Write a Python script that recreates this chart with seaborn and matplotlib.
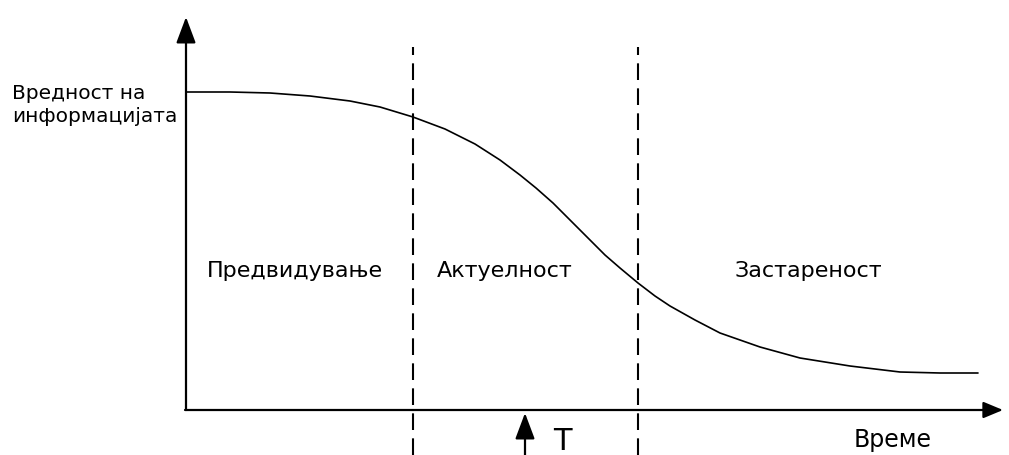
import seaborn as sns
import numpy as np
import pandas as pd
import matplotlib.pyplot as plt

# value of the information over time
time = [0, 0.44, 0.84, 1.24, 1.64, 1.94, 2.27, 2.59, 2.89, 3.14, 3.34, 3.50, 3.67,
        3.84, 4.01, 4.19, 4.34, 4.52, 4.69, 4.84, 5.09, 5.34, 5.74, 6.14, 6.64,
        7.14, 7.54, 7.92]
value = [3.18, 3.18, 3.17, 3.14, 3.09, 3.03, 2.93, 2.81, 2.66, 2.50, 2.35, 2.22, 2.07,
         1.90, 1.73, 1.55, 1.42, 1.27, 1.14, 1.04, 0.90, 0.77, 0.63, 0.52, 0.44,
         0.38, 0.37, 0.37]

phase_names = ["Предвидување", "Актуелност", "Застареност"]
phase_bounds = [2.27, 4.52]
moment_t = 3.39

y_label = "Вредност на\nинформацијата"
x_label = "Време"

df = pd.DataFrame({"time": time, "value": value})

sns.set_theme(style="white")
plt.rcParams['font.family'] = ['DejaVu Sans']
plt.rcParams['text.color'] = 'black'

fig = plt.figure(figsize=(10.09, 4.55), dpi=100)
ax = fig.add_axes([0, 0, 1, 1])
ax.set_xlim(-1.86, 8.23)
ax.set_ylim(-0.45, 4.10)
ax.axis("off")

sns.lineplot(data=df, x="time", y="value", ax=ax, color="black", lw=1.2)

# axes with arrow heads
arrow = dict(arrowstyle="-|>,head_length=0.8,head_width=0.3", color="black",
             lw=1.6, mutation_scale=20, shrinkA=0, shrinkB=0)
ax.annotate("", xy=(0, 3.93), xytext=(0, 0), arrowprops=arrow)
ax.annotate("", xy=(8.17, 0), xytext=(-0.01, 0),
            arrowprops=dict(arrow, arrowstyle="-|>,head_length=0.6,head_width=0.25"))

# phase boundaries
ax.vlines(phase_bounds, -0.45, 3.63, colors="black", linestyles=(0, (8, 4)), lw=1.5)

# moment T
ax.annotate("", xy=(moment_t, -0.03), xytext=(moment_t, -0.45), arrowprops=arrow)
ax.text(3.76, -0.32, "T", fontsize=22, ha="center", va="center")

ax.text(-1.74, 3.05, y_label, fontsize=14.5, ha="left", va="center", linespacing=1.3)
ax.text(7.07, -0.30, x_label, fontsize=17, ha="center", va="center")

label_x = [1.09, 3.19, 6.22]
for name, lx in zip(phase_names, label_x):
    ax.text(lx, 1.39, name, fontsize=16, ha="center", va="center")

fig.savefig("out.png", dpi=100, facecolor="white")
